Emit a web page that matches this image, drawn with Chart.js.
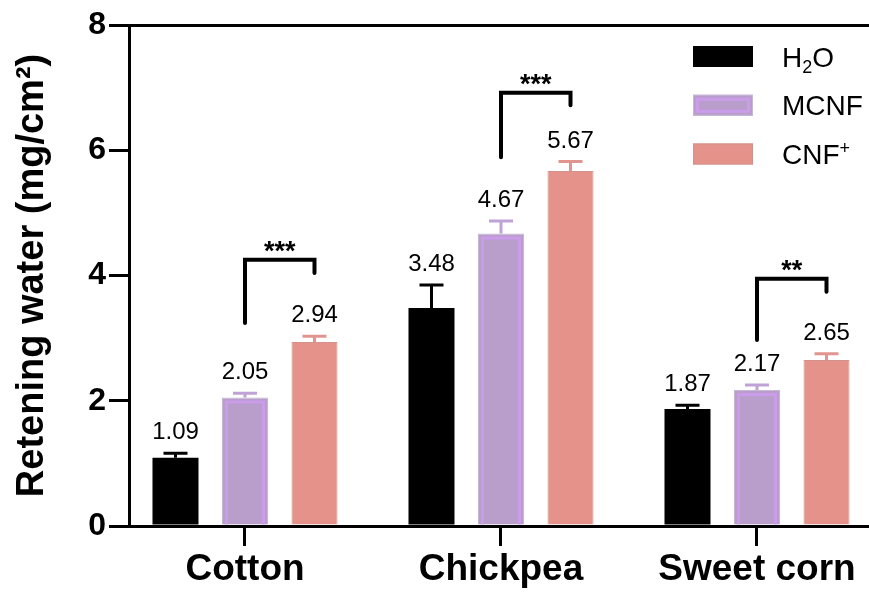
<!DOCTYPE html>
<html>
<head>
<meta charset="utf-8">
<script src="https://cdn.jsdelivr.net/npm/chart.js@4.4.1/dist/chart.umd.min.js"></script>
<style>
  html, body { margin: 0; padding: 0; background: #fff; overflow: hidden; }
  #wrap { width: 869px; height: 592px; position: relative; }
</style>
</head>
<body>
<div id="wrap"><canvas id="chart" width="869" height="592"></canvas></div>
<script>
// Water retained on leaf surfaces for three crops (mean ± SD, mg/cm²)
const categories = ['Cotton', 'Chickpea', 'Sweet corn'];
const seriesNames = ['H₂O', 'MCNF', 'CNF⁺'];
const h2oValues = [1.09, 3.48, 1.87];
const mcnfValues = [2.05, 4.67, 2.17];
const cnfValues = [2.94, 5.67, 2.65];
const h2oSD = [0.07, 0.37, 0.06];
const mcnfSD = [0.07, 0.20, 0.08];
const cnfSD = [0.09, 0.15, 0.10];
const yTicks = [0, 2, 4, 6, 8];

// Significance brackets, MCNF vs CNF⁺ (levels in mg/cm²)
const sigMarks = ['***', '***', '**'];
const sigLeftFoot = [3.24, 5.89, 2.97];
const sigTop = [4.25, 6.92, 3.95];
const sigRightFoot = [4.04, 6.72, 3.74];

const FONT = "'Liberation Sans', Arial, Helvetica, sans-serif";
const toPoints = vals => vals.map((v, i) => ({ x: i, y: v }));

const datasets = [
  { label: seriesNames[0], data: toPoints(h2oValues), sd: h2oSD,
    backgroundColor: '#000000', borderColor: '#000000', borderWidth: 0, errColor: '#000000' },
  { label: seriesNames[1], data: toPoints(mcnfValues), sd: mcnfSD,
    backgroundColor: '#b99dcb', borderColor: '#c6b7d4', borderWidth: 1,
    bandColor: '#cb9cea', errColor: '#c0a3d6' },
  { label: seriesNames[2], data: toPoints(cnfValues), sd: cnfSD,
    backgroundColor: '#e4928a', borderColor: '#d2928c', borderWidth: 1, errColor: '#e2958e' }
];

// Draws text where ₂ / ⁺ are rendered as real sub/superscripts
const SUB = { '₂': '2' };
const SUP = { '⁺': '+', '²': '2' };
function drawRich(ctx, text, x, y, size, weight) {
  let cx = x;
  for (const ch of text) {
    if (SUB[ch] || SUP[ch]) {
      const s = Math.round(size * 0.66);
      ctx.font = `${weight} ${s}px ${FONT}`;
      const dy = SUB[ch] ? size * 0.24 : -size * 0.36;
      const g = SUB[ch] || SUP[ch];
      ctx.fillText(g, cx, y + dy);
      cx += ctx.measureText(g).width;
    } else {
      ctx.font = `${weight} ${size}px ${FONT}`;
      ctx.fillText(ch, cx, y);
      cx += ctx.measureText(ch).width;
    }
  }
}

function strokeBand(ctx, l, t, r, b, inset, color, closedBottom) {
  ctx.save();
  ctx.strokeStyle = color;
  ctx.lineWidth = 3;
  ctx.beginPath();
  if (closedBottom) {
    ctx.rect(l + inset, t + inset, r - l - 2 * inset, b - t - 2 * inset);
  } else {
    ctx.moveTo(l + inset, b);
    ctx.lineTo(l + inset, t + inset);
    ctx.lineTo(r - inset, t + inset);
    ctx.lineTo(r - inset, b);
  }
  ctx.stroke();
  ctx.restore();
}

const overlay = {
  id: 'overlay',
  afterDatasetsDraw(chart) {
    const ctx = chart.ctx;
    const yScale = chart.scales.y;

    // inner purple band of the MCNF bars
    chart.data.datasets.forEach((ds, di) => {
      if (!ds.bandColor) return;
      chart.getDatasetMeta(di).data.forEach(bar => {
        const p = bar.getProps(['x', 'y', 'base', 'width'], true);
        strokeBand(ctx, p.x - p.width / 2, p.y, p.x + p.width / 2, p.base, 4.5, ds.bandColor, false);
      });
    });

    // error bars (upper half) and value labels
    chart.data.datasets.forEach((ds, di) => {
      chart.getDatasetMeta(di).data.forEach((bar, i) => {
        const p = bar.getProps(['x', 'y'], true);
        const v = ds.data[i].y;
        const yTop = yScale.getPixelForValue(v + ds.sd[i]);
        ctx.save();
        ctx.strokeStyle = ds.errColor;
        ctx.lineWidth = 3;
        ctx.beginPath();
        ctx.moveTo(p.x, p.y);
        ctx.lineTo(p.x, yTop);
        ctx.moveTo(p.x - 12, yTop);
        ctx.lineTo(p.x + 12, yTop);
        ctx.stroke();
        ctx.fillStyle = '#000';
        ctx.font = `24px ${FONT}`;
        ctx.textAlign = 'center';
        ctx.textBaseline = 'alphabetic';
        ctx.fillText(v.toFixed(2), p.x, yTop - 14);
        ctx.restore();
      });
    });

    // significance brackets between MCNF and CNF⁺
    const mMeta = chart.getDatasetMeta(1).data;
    const cMeta = chart.getDatasetMeta(2).data;
    categories.forEach((_, i) => {
      const lx = mMeta[i].x, rx = cMeta[i].x;
      const yl = yScale.getPixelForValue(sigLeftFoot[i]);
      const yt = yScale.getPixelForValue(sigTop[i]);
      const yr = yScale.getPixelForValue(sigRightFoot[i]);
      ctx.save();
      ctx.strokeStyle = '#000';
      ctx.lineWidth = 4;
      ctx.lineCap = 'round';
      ctx.lineJoin = 'miter';
      ctx.beginPath();
      ctx.moveTo(lx, yl);
      ctx.lineTo(lx, yt);
      ctx.lineTo(rx, yt);
      ctx.lineTo(rx, yr);
      ctx.stroke();
      ctx.fillStyle = '#000';
      ctx.font = `bold 27px ${FONT}`;
      ctx.textAlign = 'center';
      ctx.textBaseline = 'alphabetic';
      ctx.fillText(sigMarks[i], (lx + rx) / 2, yt);
      ctx.restore();
    });
  },
  afterDraw(chart) {
    // legend, top right of the plot
    const ctx = chart.ctx;
    const area = chart.chartArea;
    const boxL = area.right - 176, boxW = 60, boxH = 21;
    const textL = area.right - 87;
    chart.data.datasets.forEach((ds, i) => {
      const cy = 56.5 + i * 48.75;
      const t = cy - boxH / 2;
      ctx.save();
      ctx.fillStyle = ds.backgroundColor;
      ctx.fillRect(boxL, t, boxW, boxH);
      if (ds.borderWidth) {
        ctx.strokeStyle = ds.borderColor;
        ctx.lineWidth = 1;
        ctx.strokeRect(boxL + 0.5, t + 0.5, boxW - 1, boxH - 1);
      }
      if (ds.bandColor) strokeBand(ctx, boxL, t, boxL + boxW, t + boxH, 4.5, ds.bandColor, true);
      ctx.fillStyle = '#000';
      ctx.textAlign = 'left';
      ctx.textBaseline = 'alphabetic';
      drawRich(ctx, ds.label, textL, cy + 10, 28, 'normal');
      ctx.restore();
    });
  }
};

new Chart(document.getElementById('chart'), {
  type: 'bar',
  data: { datasets },
  options: {
    responsive: false,
    animation: false,
    devicePixelRatio: 1,
    categoryPercentage: 0.8145,
    barPercentage: 0.662,
    layout: { padding: { top: 25, right: 0, left: 0, bottom: 0 } },
    plugins: { legend: { display: false }, tooltip: { enabled: false } },
    scales: {
      x: {
        type: 'linear',
        offset: false,
        min: -0.4531,
        max: 2.4375,
        afterBuildTicks: s => { s.ticks = categories.map((_, i) => ({ value: i })); },
        afterFit: s => { s.height = 66; },
        grid: { offset: false, drawOnChartArea: false, drawTicks: true, tickLength: 20, tickWidth: 3,
                tickColor: '#000', color: '#000', lineWidth: 3 },
        border: { display: true, color: '#000', width: 3 },
        ticks: { callback: v => categories[v], font: { family: FONT, size: 37, weight: 'bold' },
                 color: '#000', padding: 2, maxRotation: 0, autoSkip: false }
      },
      y: {
        min: 0,
        max: 8,
        afterBuildTicks: s => { s.ticks = yTicks.map(v => ({ value: v })); },
        afterFit: s => { s.width = 129; },
        grid: { drawOnChartArea: true,
                color: c => (c.tick && c.tick.value === 8 ? '#000' : 'rgba(0,0,0,0)'),
                tickColor: '#000', lineWidth: 3, tickLength: 20, tickWidth: 3 },
        border: { display: true, color: '#000', width: 3 },
        ticks: { font: { family: FONT, size: 32, weight: 'bold' }, color: '#000', padding: 3 },
        title: { display: true, text: 'Retening water (mg/cm²)',
                 font: { family: FONT, size: 38, weight: 'bold' }, color: '#000',
                 padding: { top: 10, bottom: 0 } }
      }
    }
  },
  plugins: [overlay]
});
</script>
</body>
</html>
